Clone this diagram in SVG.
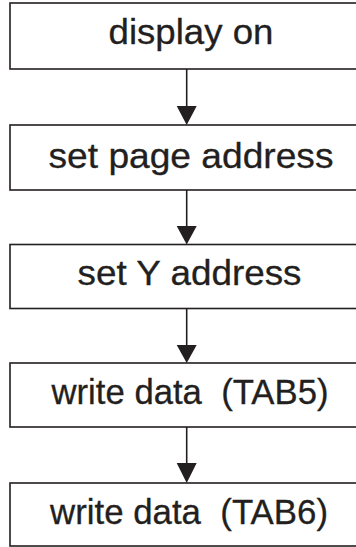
<svg xmlns="http://www.w3.org/2000/svg" width="356" height="547" viewBox="0 0 356 547">
<style>
.box{fill:#fff;stroke:#231f20;stroke-width:1.6}
.lbl{font-family:"Liberation Sans",Arial,sans-serif;font-size:35px;fill:#231f20;stroke:#231f20;stroke-width:0.3}
.edge{stroke:#231f20;stroke-width:1.6;fill:none}
.head{fill:#231f20}
</style>
<rect width="356" height="547" fill="#fff"/>
<g id="n1"><rect class="box" x="10" y="3" width="400" height="66"/><text class="lbl" x="108.5" y="43.5" textLength="165" lengthAdjust="spacingAndGlyphs">display on</text></g>
<g id="n2"><rect class="box" x="10" y="125" width="400" height="65"/><text class="lbl" x="48.5" y="168.3" textLength="285" lengthAdjust="spacingAndGlyphs">set page address</text></g>
<g id="n3"><rect class="box" x="10" y="244.5" width="400" height="64"/><text class="lbl" x="77.5" y="285" textLength="224" lengthAdjust="spacingAndGlyphs">set Y address</text></g>
<g id="n4"><rect class="box" x="10" y="363" width="400" height="64"/><text class="lbl" x="51.5" y="404" textLength="277" lengthAdjust="spacingAndGlyphs" xml:space="preserve">write data  (TAB5)</text></g>
<g id="n5"><rect class="box" x="10" y="483" width="400" height="63"/><text class="lbl" x="50" y="524.3" textLength="278" lengthAdjust="spacingAndGlyphs" xml:space="preserve">write data  (TAB6)</text></g>
<g id="connectors">
<line class="edge" x1="186.7" y1="69" x2="186.7" y2="107"/><polygon class="head" points="176.7,106 196.7,106 186.7,125"/>
<line class="edge" x1="186.7" y1="190" x2="186.7" y2="227"/><polygon class="head" points="176.7,226 196.7,226 186.7,244.5"/>
<line class="edge" x1="186.7" y1="308.5" x2="186.7" y2="347"/><polygon class="head" points="176.7,345 196.7,345 186.7,363"/>
<line class="edge" x1="186.7" y1="427" x2="186.7" y2="464"/><polygon class="head" points="176.7,463 196.7,463 186.7,483"/>
</g>
</svg>
